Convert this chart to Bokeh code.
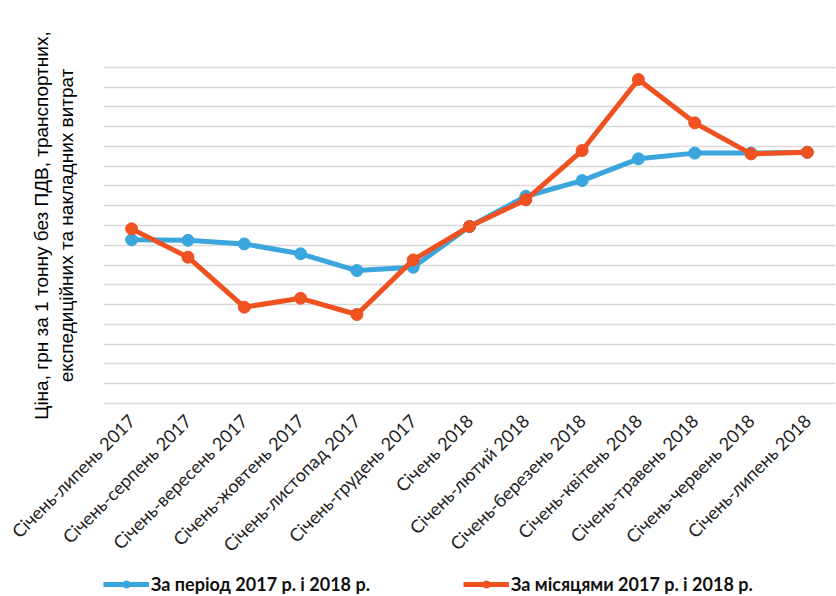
from math import pi
from bokeh.plotting import figure
from bokeh.layouts import column
from bokeh.models import FixedTicker, Range1d, Legend, LegendItem, ColumnDataSource
from bokeh.embed import file_html
from bokeh.resources import INLINE

categories = [
    "Січень-липень 2017", "Січень-серпень 2017", "Січень-вересень 2017",
    "Січень-жовтень 2017", "Січень-листопад 2017", "Січень-грудень 2017",
    "Січень 2018", "Січень-лютий 2018", "Січень-березень 2018",
    "Січень-квітень 2018", "Січень-травень 2018", "Січень-червень 2018",
    "Січень-липень 2018",
]
period_values = [8.28, 8.25, 8.07, 7.57, 6.72, 6.89, 8.95, 10.48, 11.27, 12.37, 12.66, 12.66, 12.70]
monthly_values = [8.83, 7.40, 4.87, 5.32, 4.50, 7.26, 8.95, 10.30, 12.79, 16.38, 14.19, 12.62, 12.70]
series_names = ["За період 2017 р. і 2018 р.", "За місяцями 2017 р. і 2018 р."]
grid_ticks = list(range(0, 19))

BLUE = "#3AA6DD"
RED = "#EF5121"

idx = list(range(len(categories)))
src = ColumnDataSource(dict(x=idx, period=period_values, monthly=monthly_values))

p = figure(
    width=836, height=566,
    output_backend="svg", toolbar_location=None,
    x_range=Range1d(-0.5, 12.5), y_range=Range1d(0, 18),
    min_border_left=103, min_border_right=1, min_border_top=47, min_border_bottom=0,
)
p.outline_line_color = None
p.background_fill_color = "white"

# grid
p.xgrid.grid_line_color = None
p.ygrid.ticker = FixedTicker(ticks=grid_ticks)
p.ygrid.grid_line_color = "#D9D9D9"
p.ygrid.grid_line_width = 1.6

# y axis (no tick labels)
p.yaxis.ticker = FixedTicker(ticks=grid_ticks)
p.yaxis.major_label_text_font_size = "0px"
p.yaxis.major_tick_line_color = None
p.yaxis.major_tick_out = 0
p.yaxis.minor_tick_line_color = None
p.yaxis.axis_line_color = None
p.yaxis.axis_label = "Ціна, грн за 1 тонну без ПДВ, транспортних,\nекспедиційних та накладних витрат"
p.yaxis.axis_label_text_font = "Liberation Sans"
p.yaxis.axis_label_text_font_style = "normal"
p.yaxis.axis_label_text_font_size = "19px"
p.yaxis.axis_label_text_line_height = 1.15
p.yaxis.axis_label_text_color = "#000000"
p.yaxis.axis_label_standoff = 27

# x axis
p.xaxis.ticker = FixedTicker(ticks=idx)
p.xaxis.major_label_overrides = {i: c for i, c in zip(idx, categories)}
p.xaxis.major_label_orientation = pi / 4
p.xaxis.major_label_text_font = "Lato"
p.xaxis.major_label_text_font_size = "18px"
p.xaxis.major_label_text_color = "#222222"
p.xaxis.major_label_standoff = 14
p.xaxis.major_tick_out = 0
p.xaxis.major_tick_in = 0
p.xaxis.major_tick_line_color = None
p.xaxis.minor_tick_line_color = None
p.xaxis.axis_line_color = "#D9D9D9"
p.xaxis.axis_line_width = 1.6

p.line("x", "period", source=src, line_color=BLUE, line_width=5)
p.scatter("x", "period", source=src, size=12, fill_color=BLUE, line_color=BLUE)
p.line("x", "monthly", source=src, line_color=RED, line_width=5)
p.scatter("x", "monthly", source=src, size=12, fill_color=RED, line_color=RED)

# separate strip that carries the legend below the chart
lf = figure(
    width=836, height=30, output_backend="svg", toolbar_location=None,
    x_range=Range1d(100, 101), y_range=Range1d(100, 101),
    x_axis_location=None, y_axis_location=None,
    min_border_left=0, min_border_right=0, min_border_top=0, min_border_bottom=0,
)
lf.grid.visible = False
lf.outline_line_color = None
g1 = lf.line("x", "period", source=src, line_color=BLUE, line_width=5)
m1 = lf.scatter("x", "period", source=src, size=10, fill_color=BLUE, line_color=BLUE)
g2 = lf.line("x", "monthly", source=src, line_color=RED, line_width=5)
m2 = lf.scatter("x", "monthly", source=src, size=10, fill_color=RED, line_color=RED)

legend = Legend(
    items=[LegendItem(label=series_names[0], renderers=[g1, m1]),
           LegendItem(label=series_names[1], renderers=[g2, m2])],
    orientation="horizontal", location=(0, 1),
    glyph_width=46, glyph_height=18, label_standoff=2, spacing=93,
    padding=0, margin=0, border_line_color=None, background_fill_alpha=0,
    label_text_font="Lato", label_text_font_style="bold", label_text_font_size="18px",
    label_text_color="#111111",
)
lf.add_layout(legend, "center")

open("out.html", "w").write(file_html(column(p, lf), INLINE))
